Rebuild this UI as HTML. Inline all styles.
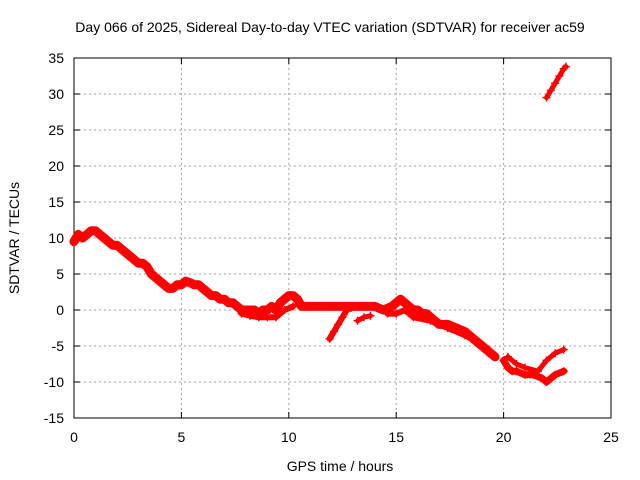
<!DOCTYPE html>
<html><head><meta charset="utf-8"><style>
body{margin:0;background:#fff}
svg{display:block;font-family:"Liberation Sans",sans-serif}
</style></head><body>
<svg id="chart" width="640" height="480" viewBox="0 0 640 480">
<rect width="640" height="480" fill="#fff"/>
<text x="330" y="32" font-size="14" text-anchor="middle">Day 066 of 2025, Sidereal Day-to-day VTEC variation (SDTVAR) for receiver ac59</text>
<g id="grid"></g>
<g id="axes"></g>
<g id="marks"></g>
<text x="340" y="471" font-size="14" text-anchor="middle">GPS time / hours</text>
<text transform="translate(19,238) rotate(-90)" font-size="14" text-anchor="middle">SDTVAR / TECUs</text>
</svg>
<script>
const xTicks=[0,5,10,15,20,25];
const yTicks=[35,30,25,20,15,10,5,0,-5,-10,-15];
const mainT=[0,0.2,0.4,0.6,0.8,1.0,1.2,1.4,1.6,1.8,2.0,2.2,2.4,2.6,2.8,3.0,3.2,3.4,3.6,3.8,4.0,4.2,4.4,4.6,4.8,5.0,5.2,5.4,5.6,5.8,6.0,6.2,6.4,6.6,6.8,7.0,7.2,7.4,7.6,7.8,8.0,8.2,8.4,8.6,8.8,9.0,9.2,9.4,9.6,9.8,10.0,10.2,10.4,10.6,10.8,11.0,11.5,12.0,12.5,13.0,13.5,14.0,14.4,14.8,15.0,15.2,15.4,15.6,15.8,16.0,16.2,16.4,16.6,16.8,17.0,17.4,17.8,18.2,18.6,19.0,19.4,19.6];
const mainV=[9.5,10.5,10,10.5,11,11,10.5,10,9.5,9,9,8.5,8,7.5,7,6.5,6.5,6,5,4.5,4,3.5,3,3,3.5,3.5,4,3.8,3.5,3.5,3,2.5,2,2,1.5,1.5,1,1,0.5,0,0,0,0,-0.5,0,0,0.5,0,1,1.5,2,2,1.5,0.5,0.5,0.5,0.5,0.5,0.5,0.5,0.5,0.5,0,0.5,1,1.5,1,0.5,0,0,-0.5,-0.5,-1,-1.5,-2,-2,-2.5,-3,-4,-5,-6,-6.5];
const lowAT=[7.8,8.2,8.6,9.0,9.4,9.8,10.2];
const lowAV=[-0.5,-0.8,-1,-1,-1,0,0.5];
const dipT=[11.9,12.1,12.3,12.5,12.7,12.9];
const dipV=[-4,-3,-2,-1,0,0.3];
const lowBT=[13.2,13.5,13.8];
const lowBV=[-1.5,-1,-0.8];
const lowCT=[14.6,15.0,15.4,15.8,16.6,17.4,18.2,18.8,19.2,19.6];
const lowCV=[-0.5,-0.5,0,-1,-1.5,-2.5,-3.5,-4.5,-5.5,-6.5];
const lateT=[20.0,20.2,20.4,20.6,21.0,21.4,21.8,22.0,22.4,22.8];
const lateV=[-7,-8,-8.5,-8.5,-9,-9,-9.5,-10,-9,-8.5];
const lateUpT=[20.2,20.6,21.0,21.6,22.0,22.4,22.8];
const lateUpV=[-6.5,-7.5,-8,-8.5,-7,-6,-5.5];
const jumpT=[22.0,22.2,22.4,22.6,22.8,22.9];
const jumpV=[29.5,30.5,31.5,32.5,33.5,33.8];

const X0=74,X1=611,Y0=418,Y1=58;
const sx=t=>X0+(t-0)/(25-0)*(X1-X0);
const sy=v=>Y0-(v-(-15))/(35-(-15))*(Y0-Y1);
const NS="http://www.w3.org/2000/svg";
function mk(tag,attrs,parent){const e=document.createElementNS(NS,tag);for(const k in attrs)e.setAttribute(k,attrs[k]);parent.appendChild(e);return e;}
const grid=document.getElementById('grid'),axes=document.getElementById('axes'),marks=document.getElementById('marks');
xTicks.forEach(t=>{
 if(t>0&&t<25){const l=mk('line',{x1:sx(t),x2:sx(t),y1:Y1,y2:Y0,stroke:'#a0a0a0','stroke-dasharray':'2,3'},grid);
 
 }
 const tx=mk('text',{x:sx(t),y:Y0+24,'font-size':14,'text-anchor':'middle'},axes);tx.textContent=t;
 
 
 mk('line',{x1:sx(t),x2:sx(t),y1:Y0,y2:Y0-6,stroke:'#000'},axes);
 mk('line',{x1:sx(t),x2:sx(t),y1:Y1,y2:Y1+6,stroke:'#000'},axes);
});
yTicks.forEach(v=>{
 if(v>-15&&v<35){const l=mk('line',{x1:X0,x2:X1,y1:sy(v),y2:sy(v),stroke:'#a0a0a0','stroke-dasharray':'2,3'},grid);
 
 }
 const tx=mk('text',{x:X0-10,y:sy(v)+5,'font-size':14,'text-anchor':'end'},axes);tx.textContent=v;
 
 
 mk('line',{x1:X0,x2:X0+6,y1:sy(v),y2:sy(v),stroke:'#000'},axes);
 mk('line',{x1:X1,x2:X1-6,y1:sy(v),y2:sy(v),stroke:'#000'},axes);
});
const fr=mk('rect',{x:X0,y:Y1,width:X1-X0,height:Y0-Y1,fill:'none',stroke:'#000'},axes);


function series(T,V,name,w){
 const pts=T.map((t,i)=>sx(t)+','+sy(V[i])).join(' ');
 const pl=mk('polyline',{points:pts,fill:'none',stroke:'#f00','stroke-width':w,'stroke-linejoin':'round','stroke-linecap':'round'},marks);
 
 
 T.forEach((t,i)=>{const x=sx(t),y=sy(V[i]);
  const p=mk('path',{d:`M${x-4},${y}H${x+4}M${x},${y-4}V${y+4}`,stroke:'#f00','stroke-width':1.5},marks);
  
  });
}
series(mainT,mainV,'main-series',9);
series(lowAT,lowAV,'lower-band-a',6);
series(dipT,dipV,'dip-series',6);
series(lowBT,lowBV,'lower-band-b',5);
series(lowCT,lowCV,'lower-band-c',6);
series(lateT,lateV,'late-series',7);
series(lateUpT,lateUpV,'late-upper-band',5);
series(jumpT,jumpV,'jump-series',5);
</script>
</body></html>
